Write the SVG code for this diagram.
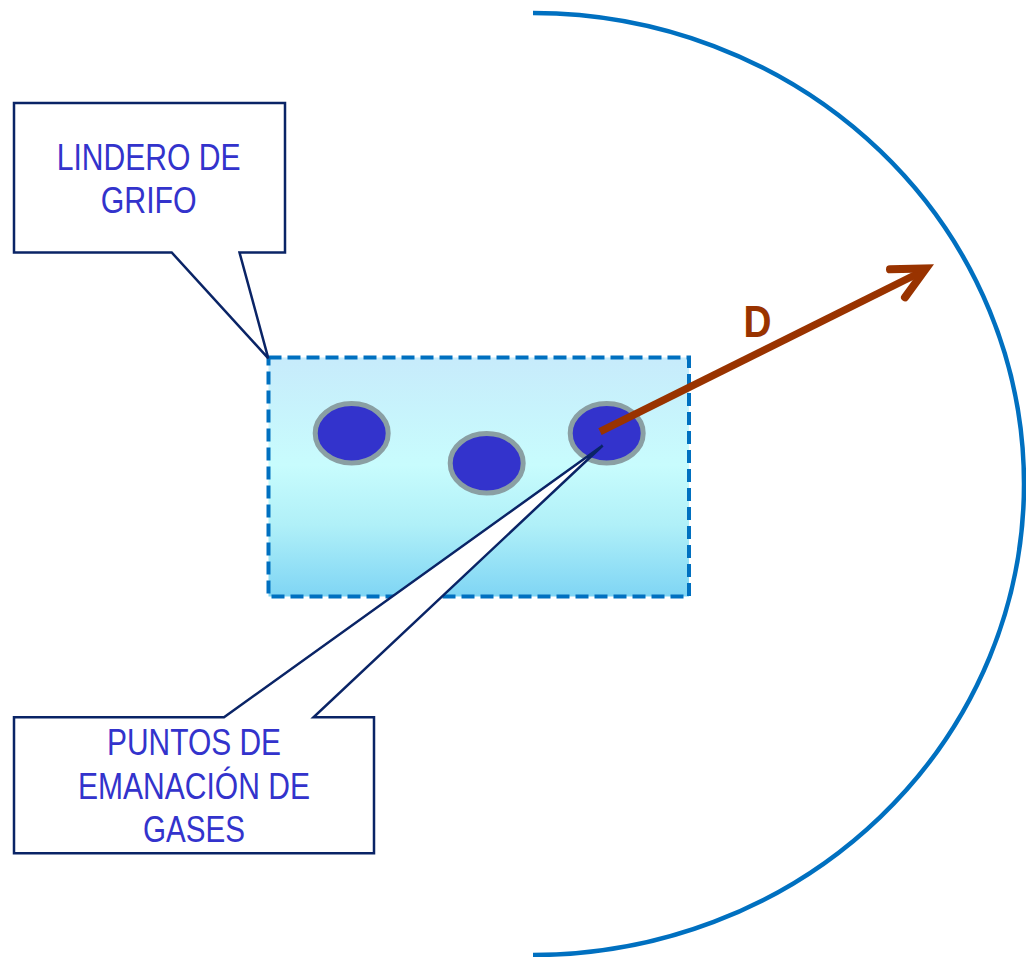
<svg xmlns="http://www.w3.org/2000/svg" width="1026" height="957" viewBox="0 0 1026 957">
  <style>
    .callout { fill: #ffffff; stroke: #0a2466; stroke-width: 2.5; stroke-linejoin: miter; }
    .lbl { font-family: "Liberation Sans", Arial, sans-serif; font-size: 37px; fill: #3333cc; text-anchor: middle; }
    .pt { fill: #3333cc; stroke: #8a9fa3; stroke-width: 5; }
  </style>
  <defs>
    <linearGradient id="zoneFill" x1="0" y1="0" x2="0" y2="1">
      <stop offset="0" stop-color="#c7ebfb"/>
      <stop offset="0.45" stop-color="#c8fcfd"/>
      <stop offset="0.7" stop-color="#b0f0f8"/>
      <stop offset="1" stop-color="#7fd5f4"/>
    </linearGradient>
  </defs>

  <g id="radius-arc">
    <path d="M533,13 A491,471 0 0 1 533,955" fill="none" stroke="#0070c0" stroke-width="4.5"/>
  </g>

  <g id="zone">
    <rect x="268.5" y="357.5" width="420.5" height="239" fill="url(#zoneFill)" stroke="#0070c0" stroke-width="4" stroke-dasharray="13 6"/>
  </g>

  <g id="points">
    <ellipse id="point-1" class="pt" cx="351.7" cy="433.3" rx="36.5" ry="29.7"/>
    <ellipse id="point-2" class="pt" cx="486.7" cy="463.3" rx="36.5" ry="29.7"/>
    <ellipse id="point-3" class="pt" cx="606.7" cy="433.3" rx="36.5" ry="29.7"/>
  </g>

  <g id="callout-lindero">
    <path class="callout" d="M14,103 H285 V252.5 H239.5 L268.3,358.3 L171.7,252.5 H14 Z"/>
    <text class="lbl" x="148.7" y="170" textLength="184" lengthAdjust="spacingAndGlyphs">LINDERO DE</text>
    <text class="lbl" x="148.7" y="213.3" textLength="96" lengthAdjust="spacingAndGlyphs">GRIFO</text>
  </g>

  <g id="callout-puntos">
    <path class="callout" d="M14,717.3 H224 L602.7,445.5 L313.5,717.3 H374 V853.3 H14 Z"/>
    <text class="lbl" x="194" y="755" textLength="174" lengthAdjust="spacingAndGlyphs">PUNTOS DE</text>
    <text class="lbl" x="194" y="799.3" textLength="232" lengthAdjust="spacingAndGlyphs">EMANACIÓN DE</text>
    <text class="lbl" x="194" y="841.7" textLength="102" lengthAdjust="spacingAndGlyphs">GASES</text>
  </g>

  <g id="connectors">
    <g id="arrow-D" stroke="#993300" fill="none">
      <line x1="600" y1="431.7" x2="923" y2="271" stroke-width="7.5" stroke-linecap="butt"/>
      <polyline points="890,269.3 926,268.5 905,297.3" stroke-width="8" stroke-linecap="round" stroke-linejoin="miter"/>
    </g>
    <text x="757.5" y="336.7" font-family="Liberation Sans, Arial, sans-serif" font-weight="bold" font-size="44" fill="#993300" text-anchor="middle" textLength="28" lengthAdjust="spacingAndGlyphs">D</text>
  </g>
</svg>
